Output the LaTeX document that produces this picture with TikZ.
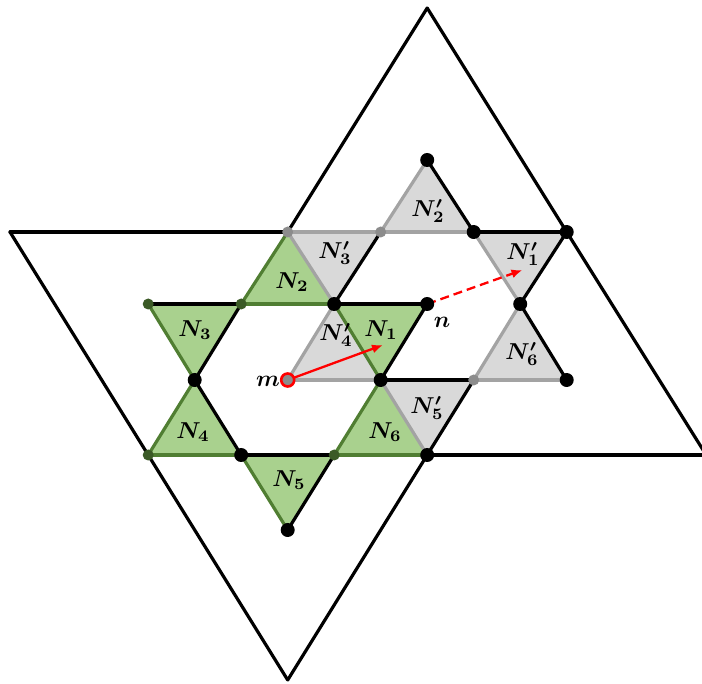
\documentclass[tikz,border=0pt]{standalone}
\usepackage{bm}
\usetikzlibrary{arrows.meta}
\definecolor{gfill}{HTML}{A9D18E}
\definecolor{gedge}{HTML}{507E32}
\definecolor{gdot}{HTML}{3B5A26}
\definecolor{yfill}{HTML}{D9D9D9}
\definecolor{yedge}{HTML}{A3A3A3}
\definecolor{ydot}{HTML}{8C8C8C}
\definecolor{rd}{HTML}{FF0000}
\newcommand{\mylab}[1]{\scalebox{2.3}{$\bm{#1}$}}
\begin{document}
\begin{tikzpicture}[x=1pt,y=-1pt,
  blk/.style={line width=3.2pt,black,line cap=round,line join=round},
  grn/.style={line width=3.2pt,gedge,line cap=round},
  gry/.style={line width=3.2pt,yedge,line cap=round},
  gtri/.style={fill=gfill},
  ytri/.style={fill=yfill},
  bdot/.style={circle,fill=black,inner sep=0pt,minimum size=14pt},
  gdt/.style={circle,fill=gdot,inner sep=0pt,minimum size=11pt},
  ydt/.style={circle,fill=ydot,inner sep=0pt,minimum size=11pt},
  mdot/.style={circle,fill=ydot,draw=rd,line width=2.6pt,inner sep=0pt,minimum size=13pt},
  lbl/.style={inner sep=0pt},
  arr/.style={line width=2.3pt,rd,-{Latex[length=11pt,width=9pt]}}]
\useasboundingbox (0,0) rectangle (702,684);
\clip (0,0) rectangle (702,684);
% lattice points
\coordinate (r5) at (427.2,8);
\coordinate (r3) at (427.2,160);
\coordinate (r2a) at (10,232);
\coordinate (r2b) at (287.7,232);
\coordinate (r2c) at (380.7,232);
\coordinate (r2d) at (473.7,232);
\coordinate (r2e) at (566.7,232);
\coordinate (r1a) at (148.2,304);
\coordinate (r1b) at (241.2,304);
\coordinate (r1c) at (334.2,304);
\coordinate (r1d) at (427.2,304);
\coordinate (r1e) at (520.2,304);
\coordinate (r0a) at (194.7,380);
\coordinate (r0b) at (287.7,380);
\coordinate (r0c) at (380.7,380);
\coordinate (r0d) at (473.7,380);
\coordinate (r0e) at (566.7,380);
\coordinate (s1a) at (148.2,455);
\coordinate (s1b) at (241.2,455);
\coordinate (s1c) at (334.2,455);
\coordinate (s1d) at (427.2,455);
\coordinate (s1e) at (706.2,455);
\coordinate (s2) at (287.7,530);
\coordinate (s4) at (287.7,680);
\coordinate (e1) at (383,345);
\coordinate (e2) at (522.5,270);
% green triangles
\fill[gtri] (r1c) -- (r1d) -- (r0c) -- cycle; % N1
\fill[gtri] (r1b) -- (r1c) -- (r2b) -- cycle; % N2
\fill[gtri] (r1a) -- (r1b) -- (r0a) -- cycle; % N3
\fill[gtri] (s1a) -- (s1b) -- (r0a) -- cycle; % N4
\fill[gtri] (s1b) -- (s1c) -- (s2) -- cycle;  % N5
\fill[gtri] (s1c) -- (s1d) -- (r0c) -- cycle; % N6
% grey triangles
\fill[ytri] (r2d) -- (r2e) -- (r1e) -- cycle; % N1'
\fill[ytri] (r2c) -- (r2d) -- (r3) -- cycle;  % N2'
\fill[ytri] (r2b) -- (r2c) -- (r1c) -- cycle; % N3'
\fill[ytri] (r0b) -- (r0c) -- (r1c) -- cycle; % N4'
\fill[ytri] (r0c) -- (r0d) -- (s1d) -- cycle; % N5'
\fill[ytri] (r0d) -- (r0e) -- (r1e) -- cycle; % N6'
% grey edges
\draw[gry] (r2b) -- (r2c);
\draw[gry] (r2c) -- (r2d);
\draw[gry] (r0b) -- (r0c);
\draw[gry] (r0d) -- (r0e);
\draw[gry] (r0b) -- (r1c);
\draw[gry] (r2c) -- (r3);
\draw[gry] (r1e) -- (r0d);
\draw[gry] (r2b) -- (r1c);
\draw[gry] (r0c) -- (s1d);
\draw[gry] (r2d) -- (r1e);
% green edges
\draw[grn] (r1b) -- (r1c);
\draw[grn] (s1a) -- (s1b);
\draw[grn] (s1c) -- (s1d);
\draw[grn] (s1a) -- (r0a);
\draw[grn] (r1b) -- (r2b);
\draw[grn] (s1c) -- (r0c);
\draw[grn] (r1a) -- (r0a);
\draw[grn] (s1b) -- (s2);
\draw[grn] (r1c) -- (r0c);
% black edges
\draw[blk] (r2a) -- (r2b);
\draw[blk] (r2d) -- (r2e);
\draw[blk] (r1a) -- (r1b);
\draw[blk] (r1c) -- (r1d);
\draw[blk] (r0c) -- (r0d);
\draw[blk] (s1b) -- (s1c);
\draw[blk] (s1d) -- (s1e);
\draw[blk] (r0a) -- (r1b);
\draw[blk] (r2b) -- (r5);
\draw[blk] (r1c) -- (r2c);
\draw[blk] (s2) -- (s1c);
\draw[blk] (r1d) -- (r0c);
\draw[blk] (r2e) -- (r1e);
\draw[blk] (r0d) -- (s1d) -- (s4);
\draw[blk] (r2a) -- (s1a) -- (s4);
\draw[blk] (r0a) -- (s1b);
\draw[blk] (r3) -- (r2d);
\draw[blk] (r1e) -- (r0e);
\draw[blk] (r5) -- (r2e) -- (s1e);
% arrows
\draw[arr] (r0b) -- (e1);
\draw[arr,dash pattern=on 9pt off 5pt] (r1d) -- (e2);
% dots
\node[bdot] (d1) at (r0a) {};
\node[bdot] (d2) at (r1c) {};
\node[bdot] (d3) at (r1d) {};
\node[bdot] (d4) at (r0c) {};
\node[bdot] (d5) at (r2d) {};
\node[bdot] (d6) at (r2e) {};
\node[bdot] (d7) at (r1e) {};
\node[bdot] (d8) at (r0e) {};
\node[bdot] (d9) at (r3) {};
\node[bdot] (d10) at (s1b) {};
\node[bdot] (d11) at (s1d) {};
\node[bdot] (d12) at (s2) {};
\node[gdt] (g1) at (r1a) {};
\node[gdt] (g2) at (r1b) {};
\node[gdt] (g3) at (s1a) {};
\node[gdt] (g4) at (s1c) {};
\node[ydt] (y1) at (r2b) {};
\node[ydt] (y2) at (r2c) {};
\node[ydt] (y3) at (r0d) {};
\node[mdot] (m) at (r0b) {};
% labels
\node[lbl] (lN1) at (381,330) {\mylab{N_1}};
\node[lbl] (lN2) at (292,282) {\mylab{N_2}};
\node[lbl] (lN3) at (195,330) {\mylab{N_3}};
\node[lbl] (lN4) at (193,432) {\mylab{N_4}};
\node[lbl] (lN5) at (289,480) {\mylab{N_5}};
\node[lbl] (lN6) at (385,432) {\mylab{N_6}};
\node[lbl] (lP1) at (523,254) {\mylab{N'_1}};
\node[lbl] (lP2) at (428,211) {\mylab{N'_2}};
\node[lbl] (lP3) at (335,253) {\mylab{N'_3}};
\node[lbl] (lP4) at (336,335) {\mylab{N'_4}};
\node[lbl] (lP5) at (427,408) {\mylab{N'_5}};
\node[lbl] (lP6) at (522,354) {\mylab{N'_6}};
\node[lbl,anchor=east] (lm) at (280,381) {\mylab{m}};
\node[lbl] (ln) at (442,322) {\mylab{n}};
\end{tikzpicture}
\end{document}
